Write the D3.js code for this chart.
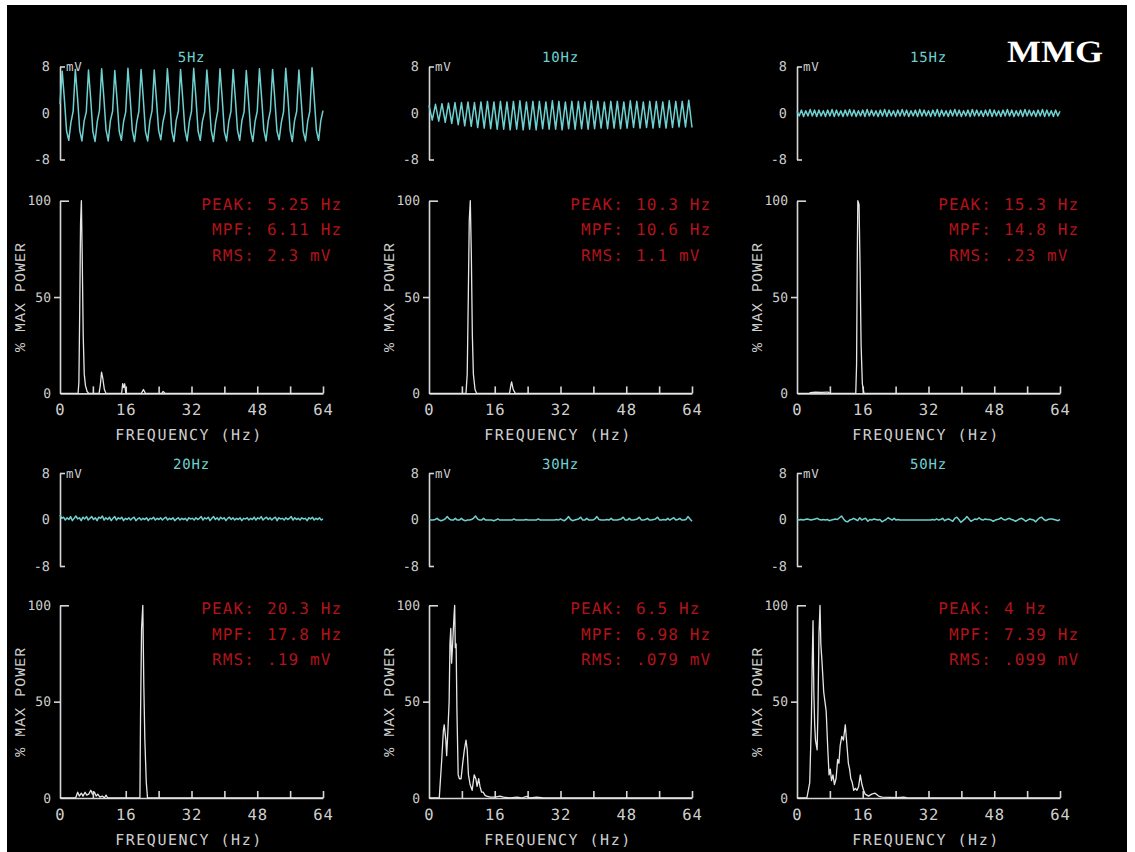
<!DOCTYPE html>
<html>
<head>
<meta charset="utf-8">
<script src="https://cdn.jsdelivr.net/npm/d3@7"></script>
<style>
  body { margin: 0; background: #fff; }
  svg text { text-rendering: geometricPrecision; }
</style>
</head>
<body>
<svg id="chart" width="1135" height="852"></svg>
<script>
// ---- data ----
const titles = ['5Hz', '10Hz', '15Hz', '20Hz', '30Hz', '50Hz'];
const peakText = ['5.25 Hz', '10.3 Hz', '15.3 Hz', '20.3 Hz', '6.5 Hz', '4 Hz'];
const mpfText = ['6.11 Hz', '10.6 Hz', '14.8 Hz', '17.8 Hz', '6.98 Hz', '7.39 Hz'];
const rmsText = ['2.3 mV', '1.1 mV', '.23 mV', '.19 mV', '.079 mV', '.099 mV'];

const mvTicks = [-8, 0, 8];
const powerTicks = [0, 50, 100];
const freqTicks = [8, 16, 24, 32, 40, 48, 56, 64];
const freqLabels = [0, 16, 32, 48, 64];

// raw MMG traces (mV), equally spaced samples over the sweep
const sig5 = [1.5,
  7.2, 2.4, -3.1, -4.7, -1.6, 0.3,  7.5, 2.6, -3.0, -4.8, -1.4, 0.2,
  7.4, 2.5, -3.2, -4.9, -1.5, 0.4,  7.6, 2.7, -2.9, -4.8, -1.3, 0.3,
  7.3, 2.4, -3.1, -4.7, -1.5, 0.2,  7.7, 2.6, -3.0, -4.9, -1.6, 0.3,
  7.5, 2.5, -3.2, -4.8, -1.4, 0.4,  7.4, 2.3, -3.0, -4.6, -1.5, 0.2,
  7.6, 2.6, -3.1, -4.9, -1.3, 0.3,  7.5, 2.5, -2.9, -4.8, -1.5, 0.3,
  7.7, 2.7, -3.1, -4.7, -1.4, 0.2,  7.4, 2.4, -3.0, -4.9, -1.6, 0.4,
  7.6, 2.6, -3.2, -4.8, -1.5, 0.3,  7.5, 2.5, -3.0, -4.7, -1.3, 0.2,
  7.3, 2.3, -3.1, -4.9, -1.5, 0.3,  7.6, 2.6, -2.9, -4.8, -1.4, 0.4,
  7.5, 2.5, -3.1, -4.6, -1.6, 0.2,  7.7, 2.7, -3.0, -4.9, -1.4, 0.3,
  7.4, 2.4, -3.2, -4.8, -1.5, 0.3,  7.8, 2.6, -3.0, -4.7, -1.3, 0.4];

const sig10 = [1.3, -1.2, 1.5, -1.4, 1.6, -1.6, 1.7, -1.8, 1.8, -2.0,
  1.8, -2.2, 1.9, -2.3, 1.8, -2.5, 1.9, -2.6, 2.0, -2.7,
  1.9, -2.8, 2.0, -2.8, 1.9, -2.9, 2.0, -2.8, 2.1, -2.9,
  1.9, -2.8, 2.0, -2.9, 2.0, -2.7, 1.9, -2.8, 2.1, -2.8,
  2.0, -2.9, 1.9, -2.7, 2.0, -2.8, 2.0, -2.7, 1.9, -2.8,
  2.1, -2.7, 2.0, -2.6, 1.9, -2.7, 2.0, -2.6, 2.0, -2.7,
  1.9, -2.6, 2.1, -2.5, 2.0, -2.6, 1.9, -2.5, 2.0, -2.6,
  2.0, -2.5, 1.9, -2.6, 2.1, -2.5, 2.0, -2.4, 2.0, -2.4, 2.2, -2.5];

const sig15 = [0.3,
  -0.5, 0.5, -0.6, 0.4, -0.5, 0.6, -0.5, 0.5, -0.6, 0.5, -0.5, 0.4, -0.6, 0.5, -0.5, 0.6, -0.6, 0.5, -0.5, 0.4,
  -0.6, 0.5, -0.5, 0.6, -0.5, 0.5, -0.6, 0.4, -0.5, 0.5, -0.6, 0.6, -0.5, 0.5, -0.5, 0.4, -0.6, 0.5, -0.5, 0.6,
  -0.6, 0.5, -0.5, 0.4, -0.6, 0.5, -0.5, 0.6, -0.5, 0.5, -0.6, 0.4, -0.5, 0.5, -0.6, 0.6, -0.5, 0.5, -0.5, 0.4,
  -0.6, 0.5, -0.5, 0.6, -0.6, 0.5, -0.5, 0.4, -0.6, 0.5, -0.5, 0.6, -0.5, 0.5, -0.6, 0.4, -0.5, 0.5, -0.6, 0.6,
  -0.5, 0.5, -0.5, 0.4, -0.6, 0.5, -0.5, 0.6, -0.6, 0.5, -0.5, 0.4, -0.6, 0.5, -0.5, 0.6, -0.5, 0.5, -0.6, 0.4,
  -0.5, 0.5, -0.6, 0.6, -0.5, 0.5, -0.5, 0.4, -0.6, 0.5, -0.5, 0.6, -0.6, 0.5, -0.5, 0.4, -0.6, 0.5, -0.5, 0.3];

const sig20 = [0.8, 0.2, 0.4, -0.1, 0.3, 0.0, 0.5, -0.2, 0.2, 0.6, 0.1, 0.3, -0.2, 0.4, 0.1, 0.5, -0.1, 0.2, 0.5, 0.0,
  0.3, -0.2, 0.4, 0.2, 0.6, -0.1, 0.3, 0.0, 0.4, -0.2, 0.2, 0.5, -0.1, 0.3, 0.1, 0.4, -0.2, 0.2, 0.0, 0.3,
  -0.1, 0.2, 0.4, -0.2, 0.1, 0.3, -0.1, 0.2, 0.0, 0.3, -0.2, 0.2, 0.1, 0.4, -0.1, 0.2, 0.0, 0.3, -0.1, 0.2,
  0.4, -0.1, 0.2, 0.0, 0.3, -0.2, 0.1, 0.3, -0.1, 0.2, 0.0, 0.2, -0.2, 0.3, 0.1, 0.2, -0.1, 0.3, 0.0, 0.2,
  0.5, -0.1, 0.3, 0.1, 0.4, -0.2, 0.2, 0.5, 0.0, 0.3, -0.1, 0.4, 0.1, 0.3, -0.2, 0.2, 0.4, 0.0, 0.3, -0.1,
  0.2, 0.0, 0.3, -0.2, 0.2, 0.1, 0.3, -0.1, 0.2, 0.0, 0.4, -0.1, 0.3, 0.1, 0.5, -0.1, 0.2, 0.4, 0.0, 0.3,
  -0.1, 0.2, 0.4, -0.2, 0.3, 0.1, 0.2, -0.1, 0.3, 0.0, 0.2, 0.5, -0.1, 0.3, 0.0, 0.2, -0.1, 0.3, 0.1, 0.2,
  -0.2, 0.3, 0.1, 0.4, -0.1, 0.2, 0.0, 0.3, -0.1, 0.1];

const sig30 = [0.0, -0.1, -0.1, 0.0, 0.2, -0.1, -0.2, -0.1, 0.1, 0.5,
  0.1, -0.1, -0.1, 0.2, -0.1, -0.1, 0.2, -0.1, -0.2, -0.1,
  -0.1, 0.0, 0.2, 0.6, 0.1, -0.1, -0.1, 0.2, -0.1, -0.1,
  -0.1, -0.1, -0.2, -0.1, 0.1, -0.1, -0.1, -0.1, -0.1, -0.1,
  -0.1, -0.1, 0.1, -0.1, -0.1, -0.1, -0.1, -0.1, 0.0, -0.1,
  -0.1, -0.1, -0.1, -0.1, 0.1, -0.1, -0.1, -0.1, -0.1, -0.1,
  -0.1, -0.1, -0.1, 0.0, -0.1, 0.1, -0.1, -0.2, 0.1, 0.5,
  0.0, -0.2, -0.1, 0.0, 0.1, 0.4, -0.1, -0.1, 0.2, -0.1,
  -0.1, -0.1, 0.1, 0.5, 0.0, -0.1, -0.1, -0.1, 0.0, -0.1,
  0.2, -0.1, -0.1, -0.1, 0.0, 0.1, 0.4, -0.1, -0.1, 0.2,
  -0.1, -0.1, 0.0, 0.1, 0.4, -0.1, -0.1, 0.0, 0.2, -0.1,
  -0.1, 0.0, 0.1, 0.4, -0.1, -0.1, 0.0, -0.1, 0.2, -0.1,
  0.1, 0.3, -0.1, 0.0, 0.2, -0.1, -0.1, 0.0, 0.5, 0.1, -0.3];

const sig50 = [0.0, -0.1, 0.0, -0.1, 0.0, 0.1, 0.0, -0.1, 0.0, 0.1,
  0.2, 0.0, -0.1, 0.0, -0.1, 0.0, -0.2, -0.1, 0.0, 0.1,
  0.0, 0.3, 0.6, 0.1, -0.3, -0.4, -0.1, 0.0, 0.2, 0.0,
  -0.2, 0.3, -0.1, 0.1, 0.2, -0.3, 0.0, -0.1, 0.1, 0.0,
  -0.1, 0.0, -0.4, -0.2, 0.0, 0.3, 0.1, -0.1, 0.2, -0.1,
  0.0, -0.1, -0.1, -0.1, -0.1, -0.1, -0.1, -0.1, -0.1, -0.1,
  -0.1, -0.1, -0.1, -0.1, -0.1, -0.1, -0.1, 0.0, -0.1, 0.1,
  -0.1, 0.0, 0.2, -0.2, 0.0, 0.1, -0.1, -0.3, 0.2, 0.4,
  0.0, -0.5, -0.2, 0.1, 0.5, 0.1, -0.3, -0.1, 0.1, 0.0,
  0.3, 0.0, -0.1, 0.1, 0.0, 0.0, -0.1, -0.3, -0.1, 0.0,
  0.1, 0.3, 0.0, -0.1, 0.1, 0.2, 0.0, -0.1, -0.3, -0.1,
  0.1, 0.2, 0.0, -0.3, -0.1, 0.1, 0.0, -0.1, -0.4, 0.0,
  0.3, 0.4, 0.0, -0.2, 0.0, 0.1, 0.1, 0.0, -0.1, -0.2, 0.0];

// power spectra: [frequency Hz, % max power]
const spec5 = [[0, 0], [4.4, 0], [4.6, 6], [4.8, 43], [5.0, 88], [5.2, 100], [5.4, 72], [5.65, 30], [5.9, 10],
  [6.2, 4], [6.6, 1], [7.0, 0], [9.5, 0], [9.8, 4], [10.1, 11], [10.4, 8], [10.8, 2], [11.2, 0],
  [15.0, 0], [15.25, 5], [15.5, 3], [15.75, 5], [16.0, 0], [19.8, 0], [20.3, 2], [20.8, 0],
  [24.8, 0], [25.1, 1], [25.6, 0], [64, 0]];
const spec10 = [[0, 0], [9.0, 0], [9.3, 10], [9.55, 48], [9.8, 90], [10.05, 100], [10.3, 72], [10.55, 30],
  [10.8, 10], [11.2, 2], [11.6, 0], [19.6, 0], [19.9, 4], [20.1, 6], [20.5, 2], [21.0, 0], [64, 0]];
const spec15 = [[0, 0], [3.0, 0], [3.2, 0.4], [4.5, 0.6], [6.0, 0.5], [7.5, 0.7], [8.1, 0], [14.3, 0],
  [14.5, 15], [14.65, 65], [14.8, 100], [15.1, 98], [15.35, 65], [15.6, 25], [15.9, 5], [16.3, 0], [64, 0]];
const spec20 = [[0, 0], [3.8, 0], [4.3, 3], [4.7, 1], [5.2, 2.5], [5.6, 1], [6.1, 3], [6.5, 1.5], [7.0, 2],
  [7.5, 4], [7.9, 2], [8.4, 3], [8.8, 1], [9.2, 2], [9.7, 0.5], [10.3, 1], [10.8, 0], [11.2, 1.5], [11.6, 0],
  [19.45, 0], [19.6, 43], [19.85, 88], [20.15, 100], [20.4, 58], [20.65, 30], [21.0, 8], [21.3, 0], [64, 0]];
const spec30 = [[0, 0], [2.5, 0], [3.1, 20], [3.5, 35], [3.7, 38], [4.1, 30], [4.3, 22], [4.6, 35], [4.9, 50],
  [5.1, 80], [5.3, 88], [5.5, 70], [5.8, 82], [6.1, 95], [6.25, 100], [6.4, 78], [6.6, 80], [6.8, 45],
  [7.1, 12], [7.4, 10], [7.8, 10], [8.2, 18], [8.6, 25], [9.0, 30], [9.3, 25], [9.6, 12], [10.0, 7],
  [10.5, 4], [11.0, 12], [11.4, 10], [11.7, 6], [12.1, 10], [12.4, 6], [12.8, 3], [13.2, 3], [13.6, 1.5],
  [14.0, 1], [14.9, 0.5], [16.1, 0.5], [17.3, 1], [18.1, 0.5], [19.7, 0], [21.4, 0.5], [22.5, 0],
  [23.8, 0.8], [24.6, 0], [26.2, 0.5], [27.9, 0], [64, 0]];
const spec50 = [[0, 0], [2.4, 0], [3.1, 8], [3.5, 40], [3.7, 70], [3.9, 92], [4.1, 55], [4.3, 38], [4.5, 30],
  [4.9, 25], [5.1, 45], [5.35, 85], [5.6, 100], [5.8, 80], [6.1, 70], [6.5, 55], [6.8, 50], [7.1, 45],
  [7.5, 25], [7.8, 12], [8.1, 15], [8.4, 9], [8.75, 12], [9.1, 7], [9.5, 10], [9.9, 20], [10.2, 18],
  [10.5, 27], [10.9, 32], [11.3, 30], [11.75, 38], [12.2, 26], [12.5, 18], [12.8, 15], [13.1, 10],
  [13.45, 8], [13.8, 4], [14.2, 5], [14.6, 4], [15.0, 6], [15.4, 12], [15.8, 7], [16.2, 4], [16.6, 2],
  [17.4, 1], [18.2, 2], [19.0, 2.5], [19.85, 1], [20.7, 0.5], [22.7, 0.3], [24.3, 0.2], [25.9, 0.5],
  [26.7, 0.2], [27.55, 0], [64, 0]];

const signals = [sig5, sig10, sig15, sig20, sig30, sig50];
const spectra = [spec5, spec10, spec15, spec20, spec30, spec50];

// ---- layout ----
const FONT = '"DejaVu Sans Mono", monospace';
const AXIS = '#d6d6d6';
const TXT = '#cfcfcf';
const CYAN = '#6fd0d0';
const RED = '#b0141a';

const COLS = [60, 429, 797];
const SIG_TOP = [66.5, 473];
const SPEC_TOP = [200.7, 605.3];
const W = 263, SIG_H = 93, SPEC_H = 192.7;

let svg = d3.select('#chart');
svg.append('rect').attr('x', 7).attr('y', 5).attr('width', 1120).attr('height', 847).attr('fill', '#000');

svg.append('text')
    .attr('x', 1007).attr('y', 61.5)
    .attr('textLength', 96).attr('lengthAdjust', 'spacingAndGlyphs')
    .attr('font-family', '"Liberation Serif", "Times New Roman", serif')
    .attr('font-weight', 'bold').attr('font-size', 31)
    .attr('fill', '#fff')
    .text('MMG');

function styleAxis(ax, size) {
    ax.attr('font-family', null).attr('font-size', null);
    ax.selectAll('.domain, .tick line').attr('stroke', AXIS).attr('stroke-width', 1.6);
    ax.selectAll('text').attr('fill', TXT).attr('font-family', FONT).attr('font-size', size);
}

function drawSignal(g, values, title) {
    let x = d3.scaleLinear().domain([0, values.length - 1]).range([0, W]);
    let y = d3.scaleLinear().domain([-8, 8]).range([SIG_H, 0]);

    let ax = g.append('g')
        .call(d3.axisLeft(y).tickValues(mvTicks).tickFormat(d => String(d))
            .tickSizeInner(-5).tickSizeOuter(0).tickPadding(10));
    styleAxis(ax, 13.5);
    ax.selectAll('.tick line').attr('x2', d => d === 0 ? 0 : 5);

    g.append('text')
        .attr('x', 6).attr('y', 4.5)
        .attr('font-family', FONT).attr('font-size', 12.5).attr('letter-spacing', 0.6)
        .attr('fill', TXT)
        .text('mV');

    g.append('text')
        .attr('x', W / 2).attr('y', -4.5)
        .attr('text-anchor', 'middle')
        .attr('font-family', FONT).attr('font-size', 14).attr('letter-spacing', 0.8)
        .attr('fill', CYAN)
        .text(title);

    g.append('path')
        .datum(values)
        .attr('fill', 'none')
        .attr('stroke', CYAN)
        .attr('stroke-width', 1.5)
        .attr('stroke-linejoin', 'round')
        .attr('d', d3.line().x((d, i) => x(i)).y(d => y(d)));
}

function drawSpectrum(g, points, i) {
    let x = d3.scaleLinear().domain([0, 64]).range([0, W]);
    let y = d3.scaleLinear().domain([0, 100]).range([SPEC_H, 0]);

    // inward ticks every 8 Hz
    let tk = g.append('g')
        .attr('transform', `translate(0,${SPEC_H})`)
        .call(d3.axisBottom(x).tickValues(freqTicks).tickFormat('')
            .tickSizeInner(-7).tickSizeOuter(0));
    styleAxis(tk, 15);

    let lb = g.append('g')
        .attr('transform', `translate(0,${SPEC_H})`)
        .call(d3.axisBottom(x).tickValues(freqLabels).tickSize(0).tickPadding(11));
    styleAxis(lb, 15.5);
    lb.select('.domain').remove();
    lb.selectAll('.tick line').remove();
    lb.selectAll('text').attr('letter-spacing', 1);

    let ay = g.append('g')
        .call(d3.axisLeft(y).tickValues(powerTicks).tickFormat(d => String(d))
            .tickSizeInner(0).tickSizeOuter(0).tickPadding(9));
    styleAxis(ay, 13);
    ay.selectAll('.tick line').attr('x2', d => d === 100 ? 9 : (d === 50 ? -6 : 0));

    g.append('text')
        .attr('x', 129).attr('y', SPEC_H + 47)
        .attr('text-anchor', 'middle')
        .attr('font-family', FONT).attr('font-size', 15).attr('letter-spacing', 1.5)
        .attr('fill', TXT)
        .text('FREQUENCY (Hz)');

    g.append('text')
        .attr('transform', `translate(-35,${SPEC_H / 2}) rotate(-90)`)
        .attr('text-anchor', 'middle')
        .attr('font-family', '"Liberation Mono", monospace')
        .attr('font-size', 15).attr('letter-spacing', 1)
        .attr('fill', TXT)
        .text('% MAX POWER');

    g.append('path')
        .datum(points)
        .attr('fill', 'none')
        .attr('stroke', '#e6e6e6')
        .attr('stroke-width', 1.3)
        .attr('stroke-linejoin', 'round')
        .attr('d', d3.line().x(d => x(d[0])).y(d => y(d[1])));

    let stats = [['PEAK:', peakText[i]], ['MPF:', mpfText[i]], ['RMS:', rmsText[i]]];
    let st = g.append('g')
        .attr('font-family', FONT).attr('font-size', 16).attr('letter-spacing', 1.1)
        .attr('fill', RED);
    stats.forEach(([lab, val], k) => {
        st.append('text').attr('x', 195).attr('y', 9 + k * 25.5)
            .attr('text-anchor', 'end').text(lab);
        st.append('text').attr('x', 207).attr('y', 9 + k * 25.5).text(val);
    });
}

titles.forEach((t, i) => {
    let col = i % 3, row = Math.floor(i / 3);
    let gs = svg.append('g').attr('transform', `translate(${COLS[col]},${SIG_TOP[row]})`);
    drawSignal(gs, signals[i], t);
    let gp = svg.append('g').attr('transform', `translate(${COLS[col]},${SPEC_TOP[row]})`);
    drawSpectrum(gp, spectra[i], i);
});
</script>
</body>
</html>
